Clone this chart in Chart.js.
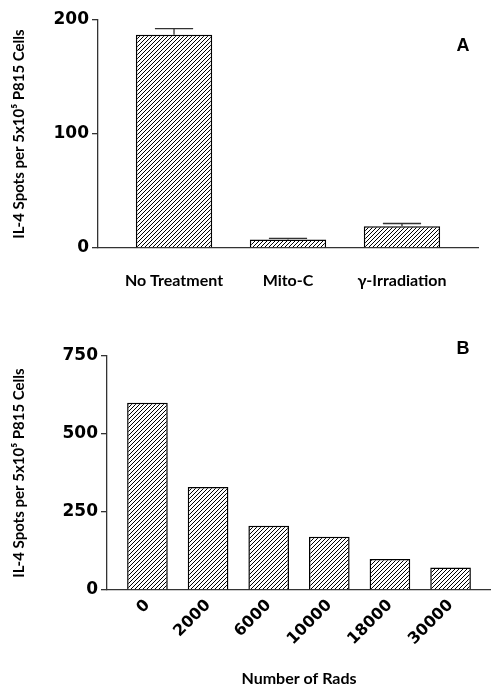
<!DOCTYPE html>
<html>
<head>
<meta charset="utf-8">
<script src="https://cdn.jsdelivr.net/npm/chart.js@4"></script>
<style>
  body { margin: 0; background: #fff; }
  .panel { position: absolute; left: 0; width: 491px; }
  #wrap-a { top: 0; height: 300px; }
  #wrap-b { top: 300px; height: 388px; }
</style>
</head>
<body>
<div class="panel" id="wrap-a"><canvas id="chart-a"></canvas></div>
<div class="panel" id="wrap-b"><canvas id="chart-b"></canvas></div>
<script>
const TREATMENTS = ['No Treatment', 'Mito-C', 'γ-Irradiation'];
const TREATMENT_SPOTS = [187, 7.5, 19];
const TREATMENT_ERR_TOP = [192.5, 8.5, 21.5];
const TREATMENT_TICKS = [0, 100, 200];

const RADS = ['0', '2000', '6000', '10000', '18000', '30000'];
const RAD_SPOTS = [600, 330, 206, 171, 99, 72];
const RAD_TICKS = [0, 250, 500, 750];

const Y_TITLE = 'IL-4 Spots per 5x10⁵ P815 Cells';
const AXIS = '#333';

Chart.defaults.color = '#000';

// 4px tile, one "/" stroke per tile
function hatch(ctx) {
  const n = 4;
  const c = document.createElement('canvas');
  c.width = c.height = n;
  const g = c.getContext('2d');
  g.fillStyle = '#fff';
  g.fillRect(0, 0, n, n);
  g.strokeStyle = '#000';
  g.lineWidth = 1;
  g.beginPath();
  g.moveTo(0, n); g.lineTo(n, 0);
  g.moveTo(-1, 1); g.lineTo(1, -1);
  g.moveTo(n - 1, n + 1); g.lineTo(n + 1, n - 1);
  g.stroke();
  return ctx.createPattern(c, 'repeat');
}

const panelLetter = (text, x, y) => ({
  id: 'panel-letter',
  afterDraw(chart) {
    const { ctx } = chart;
    ctx.save();
    ctx.font = 'bold 18px "Liberation Sans"';
    ctx.fillStyle = '#000';
    ctx.textAlign = 'center';
    ctx.textBaseline = 'middle';
    ctx.fillText(text, x, y);
    ctx.restore();
  },
});

const errorBars = tops => ({
  id: 'error-bars',
  afterDatasetsDraw(chart) {
    const { ctx, scales } = chart;
    const bars = chart.getDatasetMeta(0).data;
    const data = chart.data.datasets[0].data;
    ctx.save();
    ctx.strokeStyle = '#333';
    ctx.lineWidth = 1.3;
    tops.forEach((t, i) => {
      const x = bars[i].x;
      const half = bars[i].width / 4;
      const y0 = scales.y.getPixelForValue(data[i].y);
      const y1 = scales.y.getPixelForValue(t);
      ctx.beginPath();
      ctx.moveTo(x, y0); ctx.lineTo(x, y1);
      ctx.moveTo(x - half, y1); ctx.lineTo(x + half, y1);
      ctx.stroke();
    });
    ctx.restore();
  },
});

function makeChart(id, o) {
  const canvas = document.getElementById(id);
  const ctx = canvas.getContext('2d');
  return new Chart(ctx, {
    type: 'bar',
    data: {
      datasets: [{
        data: o.values.map((y, x) => ({ x, y })),
        backgroundColor: hatch(ctx),
        borderColor: '#000',
        borderWidth: 1.5,
        barPercentage: 0.67,
        categoryPercentage: 1,
      }],
    },
    options: {
      responsive: true,
      maintainAspectRatio: false,
      animation: false,
      layout: { padding: o.padding },
      plugins: { legend: { display: false }, tooltip: { enabled: false } },
      scales: {
        x: {
          type: 'linear',
          offset: false,
          min: -0.667,
          max: o.labels.length - 1 + 0.667,
          afterBuildTicks: s => { s.ticks = o.labels.map((_, i) => ({ value: i })); },
          afterFit: s => { s.height = o.xHeight; },
          grid: { drawOnChartArea: false, drawTicks: false, offset: false },
          border: { color: AXIS, width: 1.3 },
          ticks: {
            callback: v => o.labels[v],
            autoSkip: false,
            maxRotation: o.rotation,
            minRotation: o.rotation,
            padding: o.xPad,
            font: o.xFont,
          },
          title: o.xTitle
            ? { display: true, text: o.xTitle, font: { family: 'Lato', weight: 'bold', size: 16 }, padding: 0 }
            : { display: false },
        },
        y: {
          min: 0,
          max: o.ticks[o.ticks.length - 1],
          afterBuildTicks: s => { s.ticks = o.ticks.map(v => ({ value: v })); },
          afterFit: s => { s.width = o.yWidth; },
          grid: { drawOnChartArea: false, tickLength: 6, color: AXIS, lineWidth: 1.3 },
          border: { color: AXIS, width: 1.3 },
          ticks: { padding: 3, font: { family: 'DejaVu Sans', weight: 'bold', size: 17 } },
          title: {
            display: true,
            text: Y_TITLE,
            font: { family: 'Lato', weight: 'bold', size: 15 },
            padding: { top: 10, bottom: 0 },
          },
        },
      },
    },
    plugins: o.plugins,
  });
}

makeChart('chart-a', {
  labels: TREATMENTS,
  values: TREATMENT_SPOTS,
  ticks: TREATMENT_TICKS,
  padding: { top: 20, right: 13, left: 0, bottom: 0 },
  xHeight: 52,
  yWidth: 98,
  rotation: 0,
  xPad: 23,
  xFont: { family: 'Lato', weight: 'bold', size: 16 },
  plugins: [errorBars(TREATMENT_ERR_TOP), panelLetter('A', 463, 46)],
});

makeChart('chart-b', {
  labels: RADS,
  values: RAD_SPOTS,
  ticks: RAD_TICKS,
  padding: { top: 56, right: 0, left: 0, bottom: 0 },
  xHeight: 98,
  yWidth: 107,
  rotation: 45,
  xPad: 6,
  xFont: { family: 'DejaVu Sans', weight: 'bold', size: 16 },
  xTitle: 'Number of Rads',
  plugins: [panelLetter('B', 463, 49)],
});
</script>
</body>
</html>
